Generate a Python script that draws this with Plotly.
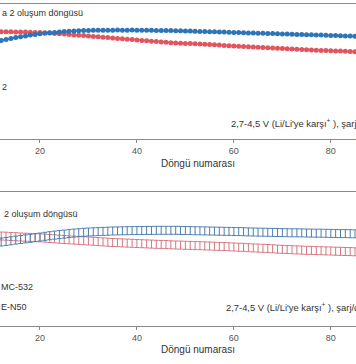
import plotly.graph_objects as go

cycles = list(range(11, 87))

top_blue = [168.8, 169.5, 170.5, 171.5, 172.4, 173.2, 174.1, 175.0, 175.6, 176.2,
            176.7, 177.2, 177.6, 178.0, 178.4, 178.7, 179.0, 179.2, 179.4, 179.6,
            179.7, 179.8, 179.7, 179.8, 179.8, 179.9, 179.8, 179.8, 179.9, 179.8,
            179.7, 179.8, 179.7, 179.6, 179.6, 179.5, 179.4, 179.3, 179.2, 179.0,
            178.9, 178.7, 178.6, 178.4, 178.3, 178.2, 178.0, 177.9, 177.7, 177.6,
            177.4, 177.3, 177.1, 177.0, 176.8, 176.7, 176.5, 176.4, 176.2, 176.1,
            175.9, 175.8, 175.6, 175.5, 175.3, 175.2, 175.0, 174.9, 174.7, 174.6,
            174.4, 174.3, 174.1, 174.0, 173.8, 173.7]
top_red = [178.4, 178.3, 178.2, 178.2, 178.1, 178.0, 177.9, 177.8, 177.6, 177.5,
           177.2, 177.0, 176.6, 176.3, 175.9, 175.5, 175.1, 174.8, 174.4, 174.0,
           173.6, 173.2, 172.8, 172.4, 172.0, 171.6, 171.2, 170.8, 170.4, 170.0,
           169.6, 169.2, 168.8, 168.4, 168.0, 167.7, 167.3, 167.0, 166.8, 166.6,
           166.4, 166.2, 166.0, 165.7, 165.5, 165.2, 164.9, 164.6, 164.3, 164.0,
           163.8, 163.5, 163.3, 163.0, 162.8, 162.5, 162.3, 162.0, 161.8, 161.5,
           161.2, 161.0, 160.7, 160.5, 160.2, 160.0, 159.8, 159.6, 159.4, 159.2,
           159.0, 158.9, 158.7, 158.5, 158.3, 158.1]
bot_blue = [155.5, 156.0, 156.6, 157.2, 157.9, 158.5, 159.1, 159.7, 160.4, 161.0,
            161.7, 162.3, 162.9, 163.4, 163.9, 164.4, 164.9, 165.3, 165.7, 166.0,
            166.2, 166.4, 166.6, 166.8, 167.0, 167.1, 167.2, 167.3, 167.4, 167.5,
            167.5, 167.6, 167.6, 167.7, 167.7, 167.7, 167.7, 167.7, 167.6, 167.5,
            167.4, 167.3, 167.2, 167.1, 167.0, 166.9, 166.8, 166.7, 166.6, 166.5,
            166.4, 166.3, 166.1, 166.0, 165.9, 165.8, 165.7, 165.6, 165.5, 165.4,
            165.3, 165.2, 165.2, 165.1, 165.0, 164.9, 164.8, 164.8, 164.7, 164.6,
            164.5, 164.4, 164.4, 164.3, 164.2, 164.1]
bot_red = [162.2, 162.0, 161.8, 161.5, 161.3, 161.0, 160.8, 160.6, 160.4, 160.2,
           159.9, 159.5, 159.2, 158.8, 158.5, 158.2, 157.9, 157.6, 157.3, 157.0,
           156.7, 156.4, 156.1, 155.8, 155.5, 155.3, 155.1, 154.9, 154.7, 154.5,
           154.3, 154.1, 153.9, 153.7, 153.6, 153.4, 153.2, 153.0, 152.9, 152.7,
           152.6, 152.4, 152.3, 152.1, 152.0, 151.8, 151.6, 151.4, 151.2, 151.0,
           150.8, 150.6, 150.3, 150.1, 149.9, 149.7, 149.5, 149.2, 148.9, 148.7,
           148.5, 148.3, 148.1, 147.9, 147.7, 147.6, 147.4, 147.3, 147.1, 147.0,
           146.8, 146.7, 146.5, 146.4, 146.2, 146.0]

x_ticks = [20, 40, 60, 80]
x_title = "Döngü numarası"
top_note = "a 2 oluşum döngüsü"
bot_note = "2 oluşum döngüsü"
top_label = "2"
bot_labels = ["MC-532", "E-N50"]
cond_text = "2,7-4,5 V (Li/Li'ye karşı<sup>+</sup> ), şarj/deşarj"

RED = "#E2555F"
BLUE = "#2E74B8"
RED_L = "#D77680"
BLUE_L = "#4E7FAE"
FONT = "Arial, Liberation Sans, sans-serif"

fig = go.Figure()
fig.add_trace(go.Scatter(x=cycles, y=top_red, mode="lines+markers", xaxis="x", yaxis="y",
                         line=dict(color=RED, width=1.5), marker=dict(color=RED, size=5)))
fig.add_trace(go.Scatter(x=cycles, y=top_blue, mode="lines+markers", xaxis="x", yaxis="y",
                         line=dict(color=BLUE, width=1.5), marker=dict(color=BLUE, size=5)))
for vals, col in [(bot_red, RED_L), (bot_blue, BLUE_L)]:
    fig.add_trace(go.Scatter(x=cycles, y=vals, mode="markers", xaxis="x2", yaxis="y2",
                             marker=dict(color="rgba(0,0,0,0)", size=1),
                             error_y=dict(type="constant", value=4, color=col,
                                          thickness=1, width=2.4)))

xr = [11.75, 85.2]
axis_common = dict(range=xr, showline=True, linecolor="#8a8a8a", linewidth=1, mirror=True,
                   ticks="outside", ticklen=3, tickcolor="#8a8a8a", tickvals=x_ticks,
                   tickfont=dict(size=9, color="#555", family=FONT), showgrid=False,
                   zeroline=False)
fig.update_layout(
    width=356, height=364, margin=dict(l=0, r=0, t=4, b=38),
    paper_bgcolor="white", plot_bgcolor="white", showlegend=False,
    font=dict(family=FONT, color="#333"),
    xaxis=dict(anchor="y", **axis_common),
    xaxis2=dict(anchor="y2", **axis_common),
    yaxis=dict(domain=[0.5807, 1], range=[71, 206], visible=False),
    yaxis2=dict(domain=[0, 0.4161], range=[72, 206], visible=False),
)

def note(text, x, y, xanchor="left", size=9, xref="paper"):
    fig.add_annotation(text=text, x=x, y=y, xref=xref, yref="paper", xanchor=xanchor,
                       yanchor="middle", showarrow=False,
                       font=dict(size=size, color="#333", family=FONT))

note(x_title, 52.7, 0.506, xanchor="center", size=10, xref="x")
note(x_title, 52.7, -0.0745, xanchor="center", size=10, xref="x")
note(top_note, 0.0, 0.973)
note(bot_note, 0.005, 0.348)
note(top_label, 0.0, 0.742)
note(bot_labels[0], -0.003, 0.121)
note(bot_labels[1], -0.003, 0.059)
note(cond_text, 0.644, 0.630, size=9.4)
note(cond_text, 0.630, 0.059, size=9.4)

fig.write_html("out.html", config={"displayModeBar": False},
               post_script="document.body.style.margin='0';document.body.style.overflow='hidden';")
